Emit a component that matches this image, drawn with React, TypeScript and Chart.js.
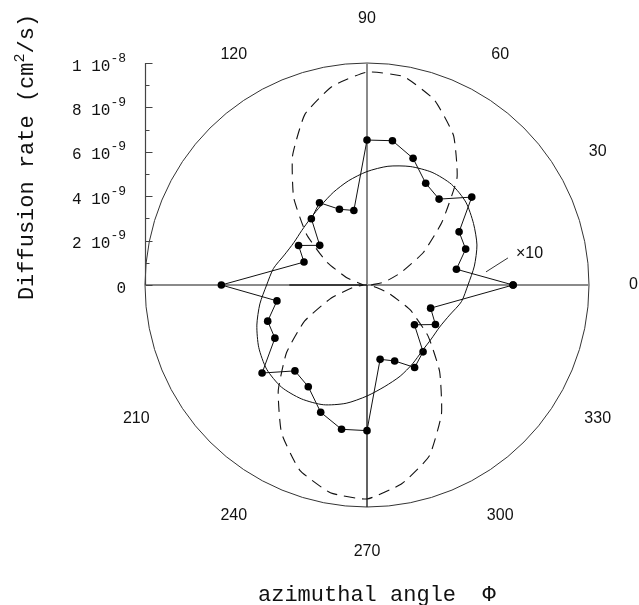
import React, { useEffect, useRef } from "react";
import { Chart, registerables } from "chart.js";

Chart.register(...registerables);

// Measured diffusion rates (units of 1e-9 cm^2/s) at azimuthal angle (deg)
const POINT_ANGLES = [0, 10, 20, 30, 40, 50, 60, 70, 80, 90, 100, 110, 120, 130, 140, 150, 160, 180, 190, 200, 210, 220, 230, 240, 250, 260, 270, 280, 290, 300, 310, 320, 330, 340];
const POINT_RATES = [6.58, 4.09, 4.73, 4.79, 6.16, 5.05, 5.29, 6.07, 6.6, 6.53, 3.41, 3.63, 4.28, 3.9, 2.78, 3.56, 3.02, 6.56, 4.12, 4.76, 4.79, 6.17, 5.05, 5.29, 6.1, 6.6, 6.56, 3.4, 3.64, 4.29, 3.93, 2.79, 3.56, 3.05];

// Curves sampled every 10 degrees
const CURVE_ANGLES = [0, 10, 20, 30, 40, 50, 60, 70, 80, 90, 100, 110, 120, 130, 140, 150, 160, 170, 180, 190, 200, 210, 220, 230, 240, 250, 260, 270, 280, 290, 300, 310, 320, 330, 340, 350];
const ELLIPSE_RATES = [4.55, 4.91, 5.27, 5.54, 5.81, 5.92, 5.86, 5.68, 5.43, 5.11, 4.77, 4.44, 4.14, 3.94, 3.83, 3.81, 3.96, 4.28, 4.52, 4.9, 5.28, 5.63, 5.9, 6.0, 5.92, 5.74, 5.41, 5.0, 4.64, 4.37, 4.1, 3.87, 3.78, 3.78, 3.96, 4.32];
const DASHED_RATES = [0.18, 0.81, 1.62, 2.93, 4.41, 6.31, 7.79, 8.87, 9.53, 9.59, 9.08, 8.18, 6.71, 5.14, 3.56, 2.12, 0.99, 0.27, 0.18, 0.63, 1.71, 3.24, 4.73, 6.22, 7.7, 8.87, 9.5, 9.64, 9.08, 8.2, 6.71, 5.09, 3.6, 2.25, 0.99, 0.27];

// Radial axis ticks (units of 1e-9)
const R_MAX = 10;
const R_MINOR_TICKS = [0, 1, 2, 3, 4, 5, 6, 7, 8, 9, 10];
const R_MAJOR_TICKS = [0, 2, 4, 6, 8, 10];
const R_TICK_MANTISSA = ["0", "2 10", "4 10", "6 10", "8 10", "1 10"];
const R_TICK_EXPONENT = ["", "-9", "-9", "-9", "-9", "-8"];

// Angle labels (deg)
const ANGLE_LABELS = [0, 30, 60, 90, 120, 210, 240, 270, 300, 330];
const ANGLE_LABEL_RADIUS = 12.0;

const toXY = (deg: number, r: number) => ({
  x: r * Math.cos((deg * Math.PI) / 180),
  y: r * Math.sin((deg * Math.PI) / 180),
});

const closed = (angles: number[], rates: number[]) => {
  const pts = angles.map((a, i) => toXY(a, rates[i]));
  pts.push(pts[0]);
  return pts;
};

const polarPlugin = {
  id: "polarDecor",
  beforeDatasetsDraw(chart: any) {
    const { ctx, chartArea, scales } = chart;
    const xs = scales.x;
    const ys = scales.y;
    const cx = xs.getPixelForValue(0);
    const cy = ys.getPixelForValue(0);
    const rpx = xs.getPixelForValue(R_MAX) - cx;
    ctx.save();
    // outer circle
    ctx.strokeStyle = "#333";
    ctx.lineWidth = 1;
    ctx.beginPath();
    ctx.arc(cx, cy, rpx, 0, Math.PI * 2);
    ctx.stroke();
    // axes
    ctx.strokeStyle = "#8a8a8a";
    ctx.lineWidth = 2;
    ctx.beginPath();
    ctx.moveTo(xs.getPixelForValue(-R_MAX), cy);
    ctx.lineTo(xs.getPixelForValue(R_MAX), cy);
    ctx.moveTo(cx, ys.getPixelForValue(R_MAX));
    ctx.lineTo(cx, cy);
    ctx.stroke();
    ctx.strokeStyle = "#222";
    ctx.lineWidth = 1.4;
    ctx.beginPath();
    ctx.moveTo(cx, cy);
    ctx.lineTo(cx, ys.getPixelForValue(-R_MAX));
    ctx.moveTo(xs.getPixelForValue(-3.5), cy);
    ctx.lineTo(cx, cy);
    ctx.stroke();
    // radial value axis on the left
    const ax = chartArea.left + 0.5;
    ctx.strokeStyle = "#444";
    ctx.lineWidth = 1.2;
    ctx.beginPath();
    ctx.moveTo(ax, ys.getPixelForValue(R_MAX));
    ctx.lineTo(ax, ys.getPixelForValue(0));
    R_MINOR_TICKS.forEach((v) => {
      const ty = Math.round(ys.getPixelForValue(v)) + 0.5;
      const len = R_MAJOR_TICKS.includes(v) ? 7 : 4;
      ctx.moveTo(ax, ty);
      ctx.lineTo(ax + len, ty);
    });
    ctx.stroke();
    ctx.restore();
  },
  afterDraw(chart: any) {
    const { ctx, chartArea, scales } = chart;
    const xs = scales.x;
    const ys = scales.y;
    ctx.save();
    ctx.fillStyle = "#111";
    // radial tick labels
    const rightEdge = chartArea.left - 19;
    R_MAJOR_TICKS.forEach((v, i) => {
      const ty = ys.getPixelForValue(v);
      const base = ty + 7.5;
      ctx.textBaseline = "alphabetic";
      ctx.textAlign = "left";
      ctx.font = "13px 'Liberation Mono'";
      const expW = ctx.measureText(R_TICK_EXPONENT[i]).width;
      ctx.font = "16px 'Liberation Mono'";
      const manW = ctx.measureText(R_TICK_MANTISSA[i]).width;
      const start = rightEdge - expW - manW;
      ctx.fillText(R_TICK_MANTISSA[i], start, base);
      ctx.font = "13px 'Liberation Mono'";
      ctx.fillText(R_TICK_EXPONENT[i], start + manW, base - 9);
    });
    // angle labels
    ctx.font = "16px 'Liberation Sans'";
    ctx.textAlign = "center";
    ctx.textBaseline = "middle";
    ANGLE_LABELS.forEach((a) => {
      const p = toXY(a, ANGLE_LABEL_RADIUS);
      ctx.fillText(String(a), xs.getPixelForValue(p.x), ys.getPixelForValue(p.y));
    });
    // x10 annotation
    ctx.strokeStyle = "#333";
    ctx.lineWidth = 1;
    ctx.beginPath();
    ctx.moveTo(xs.getPixelForValue(6.35), ys.getPixelForValue(1.22));
    ctx.lineTo(xs.getPixelForValue(5.36), ys.getPixelForValue(0.59));
    ctx.stroke();
    ctx.textAlign = "left";
    ctx.fillText("\u00d710", xs.getPixelForValue(6.71), ys.getPixelForValue(1.4));
    // bottom title
    ctx.font = "22px 'Liberation Mono'";
    ctx.textBaseline = "alphabetic";
    ctx.textAlign = "left";
    ctx.fillText("azimuthal angle  \u03a6", 258, 601);
    // left title (rotated)
    ctx.translate(33, 157);
    ctx.rotate(-Math.PI / 2);
    const p1 = "Diffusion rate (cm";
    const p2 = "2";
    const p3 = "/s)";
    ctx.font = "22px 'Liberation Mono'";
    const w1 = ctx.measureText(p1).width;
    const w3 = ctx.measureText(p3).width;
    ctx.font = "15px 'Liberation Mono'";
    const w2 = ctx.measureText(p2).width;
    let x0 = -(w1 + w2 + w3) / 2;
    ctx.font = "22px 'Liberation Mono'";
    ctx.fillText(p1, x0, 0);
    x0 += w1;
    ctx.font = "15px 'Liberation Mono'";
    ctx.fillText(p2, x0, -9);
    x0 += w2;
    ctx.font = "22px 'Liberation Mono'";
    ctx.fillText(p3, x0, 0);
    ctx.restore();
  },
};

export default function App() {
  const ref = useRef<HTMLCanvasElement>(null);
  useEffect(() => {
    const canvas = ref.current;
    if (!canvas) return;
    const chart = new Chart(canvas, {
      type: "scatter",
      data: {
        datasets: [
          {
            data: closed(CURVE_ANGLES, DASHED_RATES),
            showLine: true,
            borderColor: "#111",
            borderWidth: 1.1,
            borderDash: [11, 7],
            pointRadius: 0,
            tension: 0.15,
          },
          {
            data: closed(CURVE_ANGLES, ELLIPSE_RATES),
            showLine: true,
            borderColor: "#111",
            borderWidth: 1,
            pointRadius: 0,
            tension: 0.25,
          },
          {
            data: closed(POINT_ANGLES, POINT_RATES),
            showLine: true,
            borderColor: "#111",
            borderWidth: 1,
            pointRadius: 3.8,
            pointBackgroundColor: "#000",
            pointBorderColor: "#000",
            pointBorderWidth: 0,
            tension: 0,
          },
        ],
      },
      options: {
        responsive: false,
        animation: false,
        events: [],
        layout: { padding: { left: 145, right: 50, top: 63, bottom: 98 } },
        scales: {
          x: { type: "linear", min: -R_MAX, max: R_MAX, display: false },
          y: { type: "linear", min: -R_MAX, max: R_MAX, display: false },
        },
        plugins: { legend: { display: false }, tooltip: { enabled: false } },
      },
      plugins: [polarPlugin],
    } as any);
    return () => chart.destroy();
  }, []);
  return (
    <div style={{ position: "fixed", left: 0, top: 0, width: 639, height: 605, background: "#fff" }}>
      <canvas ref={ref} width={639} height={605} style={{ display: "block", width: 639, height: 605 }} />
    </div>
  );
}
